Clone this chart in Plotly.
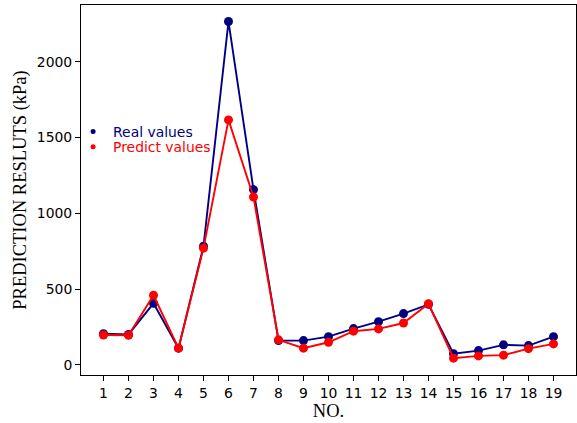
import plotly.graph_objects as go

nos = list(range(1, 20))
real_values = [205, 200, 406, 110, 783, 2265, 1156, 160, 160, 186, 239, 285, 338, 399, 74, 94, 132, 127, 186]
predict_values = [197, 195, 459, 110, 770, 1616, 1107, 165, 110, 149, 222, 237, 276, 403, 44, 59, 64, 107, 138]
tick_labels = [str(n) for n in nos]
y_ticks = [0, 500, 1000, 1500, 2000]

NAVY = "#000080"
RED = "#ff0000"

fig = go.Figure()
fig.add_trace(go.Scatter(x=nos, y=real_values, mode="lines+markers", showlegend=False,
                         line=dict(color=NAVY, width=1.9), marker=dict(color=NAVY, size=9)))
fig.add_trace(go.Scatter(x=nos, y=predict_values, mode="lines+markers", showlegend=False,
                         line=dict(color=RED, width=1.9), marker=dict(color=RED, size=9)))
# legend entries (dot only)
fig.add_trace(go.Scatter(x=[None], y=[None], mode="markers", name='<span style="color:#000080">Real values</span>',
                         marker=dict(color=NAVY, size=5), legend="legend"))
fig.add_trace(go.Scatter(x=[None], y=[None], mode="markers", name='<span style="color:#ff0000">Predict values</span>',
                         marker=dict(color=RED, size=5), legend="legend2"))

axis_common = dict(showline=True, linecolor="black", linewidth=1, mirror=True, showgrid=False, zeroline=False,
                   ticks="outside", ticklen=5, tickcolor="black", tickwidth=1,
                   tickfont=dict(family="DejaVu Sans", size=13.9, color="black"))

legend_common = dict(xanchor="left", yanchor="top", bgcolor="rgba(0,0,0,0)",
                     font=dict(family="DejaVu Sans", size=13.9), itemwidth=30)

fig.update_layout(
    width=577, height=423,
    margin=dict(l=81, r=1, t=5, b=48),
    paper_bgcolor="white", plot_bgcolor="white",
    xaxis=dict(range=[0.1, 19.9], tickmode="array", tickvals=nos, ticktext=tick_labels,
               title=dict(text="NO.", font=dict(family="Liberation Serif", size=18.5, color="black"), standoff=3),
               **axis_common),
    yaxis=dict(range=[-67, 2374], tickvals=y_ticks,
               title=dict(text="PREDICTION RESLUTS (kPa)", font=dict(family="Liberation Serif", size=18.5, color="black"), standoff=5),
               **axis_common),
    legend=dict(x=-0.016, y=0.70, **legend_common),
    legend2=dict(x=-0.016, y=0.659, **legend_common),
)

fig.write_html("out.html", config={"displayModeBar": False},
               post_script="document.body.style.margin='0';")
